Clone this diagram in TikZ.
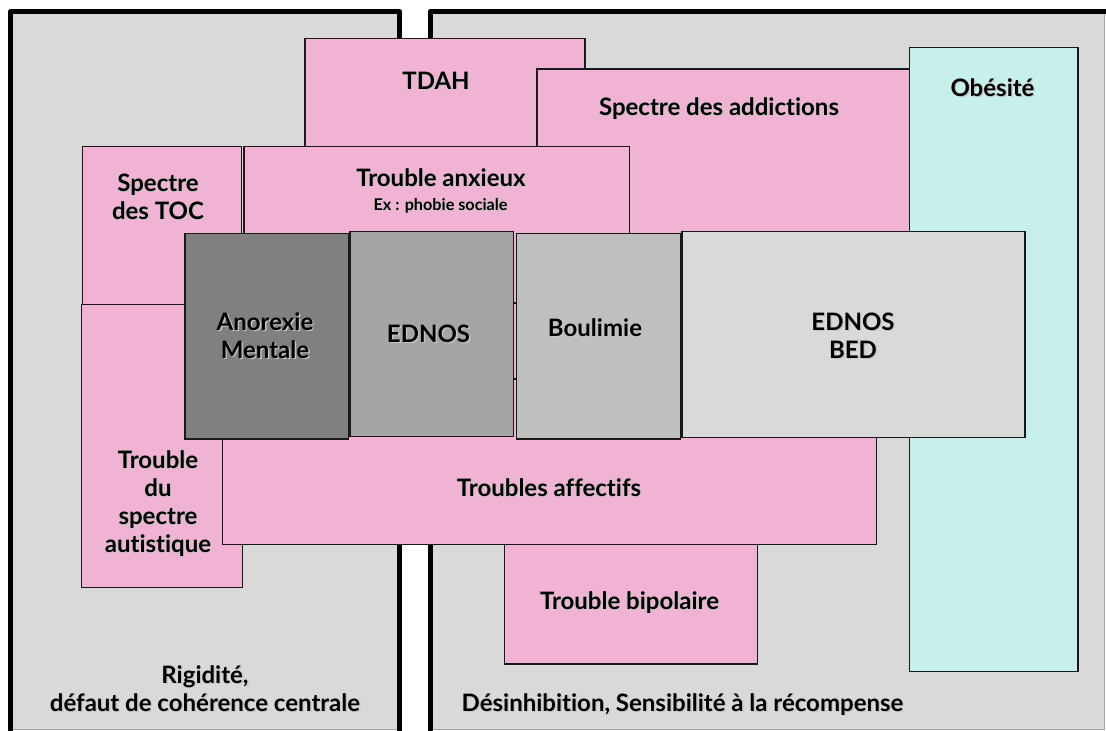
\documentclass[tikz,border=0pt]{standalone}
\usepackage{fontspec}
\setmainfont{Lato}[Ligatures=NoCommon]
\definecolor{panelgray}{HTML}{D9D9D9}
\definecolor{pinkc}{HTML}{F1B3D3}
\definecolor{cyanc}{HTML}{C7F0EC}
\definecolor{anorexc}{HTML}{808080}
\definecolor{ednosc}{HTML}{A5A5A5}
\definecolor{boulc}{HTML}{BFBFBF}
\definecolor{bedc}{HTML}{D9D9D9}
\definecolor{edgegray}{HTML}{A6A6A6}
\newcommand\shd[1]{\leavevmode\rlap{\hspace{1.4pt}\raisebox{-1.4pt}{\textcolor{black!22}{#1}}}#1}
\tikzset{
  rbox/.style={draw=black!90, line width=1.2pt, inner sep=0pt, outer sep=0pt, anchor=north west},
  panelbox/.style={fill=panelgray, inner sep=0pt, outer sep=0pt, anchor=north west},
  lbl/.style={font=\bfseries\fontsize{24}{28}\selectfont, inner sep=0pt, anchor=base, align=center},
  small/.style={font=\bfseries\fontsize{16.2}{18}\selectfont, inner sep=0pt, anchor=base},
  frame/.style={line width=5pt, draw=black, line join=round}
}
\begin{document}
\begin{tikzpicture}[x=1pt,y=-1pt]
\useasboundingbox (0,0) rectangle (1106,731);
\clip (0,0) rectangle (1106,731);
% panels
\node[panelbox, minimum width=388.4pt, minimum height=718pt] (lp) at (10.8,11.5) {};
\node[panelbox, minimum width=673.8pt, minimum height=718pt] (rp) at (430.2,11.5) {};
\draw[edgegray, line width=1pt] (lp.south west) -- (lp.south east);
\draw[edgegray, line width=1pt] (rp.south west) -- (rp.south east) -- (rp.north east);
\draw[frame] ([yshift=-10pt]lp.south west) -- (lp.north west) -- (lp.north east) -- ([yshift=-10pt]lp.south east);
\draw[frame] ([yshift=-10pt]rp.south west) -- (rp.north west) -- ([xshift=10pt]rp.north east);
% boxes
\node[rbox, fill=pinkc, minimum width=280pt, minimum height=341pt] (tdah) at (305,38.3) {};
\node[rbox, fill=pinkc, minimum width=383pt, minimum height=181pt] (addic) at (537,69) {};
\node[rbox, fill=cyanc, minimum width=168.5pt, minimum height=624.4pt] (obes) at (909.5,47.3) {};
\node[rbox, fill=pinkc, minimum width=385.7pt, minimum height=156.3pt] (anx) at (244,146.7) {};
\node[rbox, fill=pinkc, minimum width=159pt, minimum height=173.3pt] (toc) at (82.7,146.7) {};
\node[rbox, fill=pinkc, minimum width=253pt, minimum height=144pt] (bip) at (504.6,520) {};
\node[rbox, fill=pinkc, minimum width=161pt, minimum height=283.4pt] (aut) at (81.3,304.3) {};
\node[rbox, fill=pinkc, minimum width=653.6pt, minimum height=165.3pt] (aff) at (222.7,379) {};
\node[rbox, fill=bedc, minimum width=343pt, minimum height=206pt] (bed) at (682,231.3) {};
\node[rbox, fill=boulc, minimum width=163.6pt, minimum height=205.7pt] (boul) at (516.7,233.3) {};
\node[rbox, fill=ednosc, minimum width=163.5pt, minimum height=205.4pt] (ednos) at (350,231.3) {};
\node[rbox, fill=anorexc, minimum width=163.3pt, minimum height=205.7pt] (anor) at (185,233.3) {};
% labels (multi-line nodes: base = last line)
\node[lbl] (tTDAH) at (436,89) {\shd{TDAH}};
\node[lbl] (tAddic) at (719,115) {\shd{Spectre des addictions}};
\node[lbl] (tObes) at (992.5,96) {\shd{Obésité}};
\node[lbl] (tTOC) at (158,219) {\shd{Spectre}\\\shd{des TOC}};
\node[lbl] (tAnx) at (441,186) {\shd{Trouble anxieux}};
\node[small] (tAnxEx) at (440.6,210) {\shd{Ex : phobie sociale}};
\node[lbl] (tAnor) at (265,358) {\shd{Anorexie}\\\shd{Mentale}};
\node[lbl] (tEdnos) at (428.5,342) {\shd{EDNOS}};
\node[lbl] (tBoul) at (595,336) {\shd{Boulimie}};
\node[lbl] (tBed) at (853,358) {\shd{EDNOS}\\\shd{BED}};
\node[lbl] (tAff) at (549,496) {\shd{Troubles affectifs}};
\node[lbl] (tAut) at (158,552) {\shd{Trouble}\\\shd{du}\\\shd{spectre}\\\shd{autistique}};
\node[lbl] (tBip) at (629.5,609) {\shd{Trouble bipolaire}};
\node[lbl] (tRig) at (205,711) {\shd{Rigidité,}\\\shd{défaut de cohérence centrale}};
\node[lbl] (tDes) at (682.5,711) {\shd{Désinhibition, Sensibilité à la récompense}};
\end{tikzpicture}
\end{document}
